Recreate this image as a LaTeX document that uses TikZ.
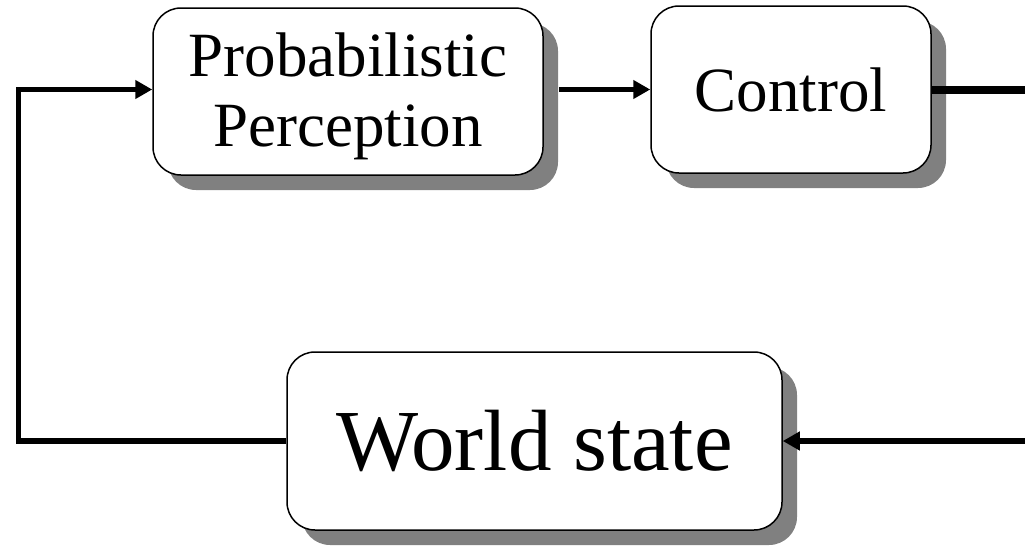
\documentclass[tikz,border=0pt]{standalone}
\usepackage{fontspec}
\setmainfont{Liberation Serif}
\usetikzlibrary{arrows.meta,shadows}
\definecolor{shadowgray}{HTML}{808080}
\begin{document}
\begin{tikzpicture}[x=1pt,y=-1pt,
  block/.style={draw=black, line width=1.5pt, fill=white, rounded corners=28pt,
    inner sep=0pt, align=center,
    drop shadow={shadow xshift=15pt, shadow yshift=-15pt, fill=shadowgray, opacity=1}},
  smalltext/.style={font=\fontsize{63}{70}\selectfont},
  bigtext/.style={font=\fontsize{87}{92}\selectfont},
  link/.style={line width=5.5pt, -{Triangle[length=17pt,width=18pt]}},
  heavy/.style={line width=8pt},
]
\useasboundingbox (0,0) rectangle (1025,546);

% blocks
\node[block, smalltext, text depth=3.7pt, minimum width=390pt, minimum height=167pt] (perc) at (348,91.5)
  {Probabilistic\\Perception};
\node[block, smalltext, minimum width=280pt, minimum height=167pt] (ctrl) at (791,89.5)
  {Control};
\node[block, bigtext, minimum width=495pt, minimum height=178pt] (world) at (534.5,441)
  {World state};

% loose ends of the loop
\coordinate (outR) at (1025,89.5);
\coordinate (inR) at (1025,441);
\coordinate (loopB) at (18.5,441);
\coordinate (loopT) at (18.5,89.5);

% connectors
\draw[link] ([xshift=15pt]perc.east |- ctrl.west) -- (ctrl.west);
\draw[heavy] (ctrl.east) -- (outR);
\draw[link] (inR) -- (world.east);
\draw[link] (world.west) -- (loopB) -- (loopT) -- (loopT -| perc.west);
\end{tikzpicture}
\end{document}
